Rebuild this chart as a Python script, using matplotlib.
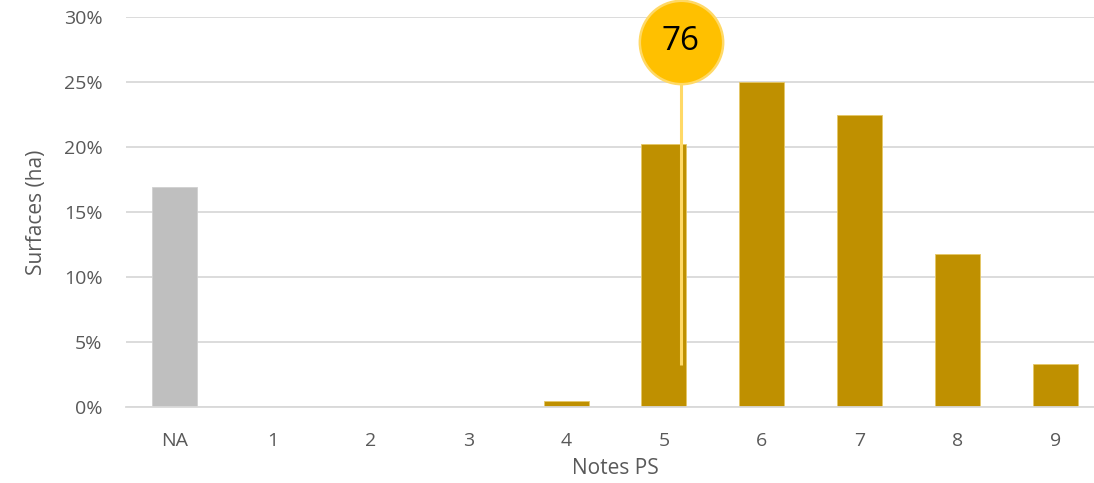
import matplotlib
matplotlib.use("Agg")
import matplotlib.pyplot as plt
from matplotlib.ticker import PercentFormatter

categories = ["NA", "1", "2", "3", "4", "5", "6", "7", "8", "9"]
values = [16.9, 0.0, 0.0, 0.0, 0.5, 20.2, 25.0, 22.45, 11.75, 3.3]
bar_colors = ["#BFBFBF"] + ["#BF9000"] * 9
edge_colors = ["#D0D0D0"] + ["#E6C766"] * 9
marker_x = 5.17
marker_y_top = 28.1
marker_y_bottom = 3.2
marker_label = "76"

plt.rcParams['font.family'] = ['Open Sans', 'DejaVu Sans']
text_color = "#595959"

fig = plt.figure(figsize=(10.94, 4.83), dpi=100)
ax = fig.add_axes([126/1094, 76/483, 978/1094, 390/483])

x = list(range(len(categories)))
ax.bar(x, values, width=0.46, color=bar_colors, edgecolor=edge_colors,
       linewidth=0.6, zorder=2)

ax.set_xlim(-0.5, 9.5)
ax.set_ylim(0, 30)
ax.set_yticks([0, 5, 10, 15, 20, 25, 30])
ax.yaxis.set_major_formatter(PercentFormatter(decimals=0))
ax.grid(axis='y', color="#D9D9D9", linewidth=1.3, zorder=0)
ax.set_axisbelow(True)
for s in ["top", "right", "left"]:
    ax.spines[s].set_visible(False)
ax.spines["bottom"].set_color("#D9D9D9")
ax.spines["bottom"].set_linewidth(1.3)
ax.set_xticks(x)
ax.set_xticklabels(categories)
ax.tick_params(axis='both', length=0, labelsize=14, colors=text_color)
ax.tick_params(axis='x', pad=18)
ax.tick_params(axis='y', pad=17)

ax.set_xlabel("Notes PS", fontsize=15, color=text_color, labelpad=6)
ax.set_ylabel("Surfaces (ha)", fontsize=15, color=text_color, labelpad=12)

ax.plot([marker_x, marker_x], [marker_y_bottom, marker_y_top],
        color="#FFD966", linewidth=2.2, zorder=3, solid_capstyle='butt')
ax.scatter([marker_x], [marker_y_top], s=3600, color="#FFC000",
           edgecolor="#FFD966", linewidth=1.8, zorder=4, clip_on=False)
ax.text(marker_x, marker_y_top, marker_label, ha='center', va='center',
        fontsize=24, color="black", zorder=5)

fig.savefig("out.png", dpi=100)
